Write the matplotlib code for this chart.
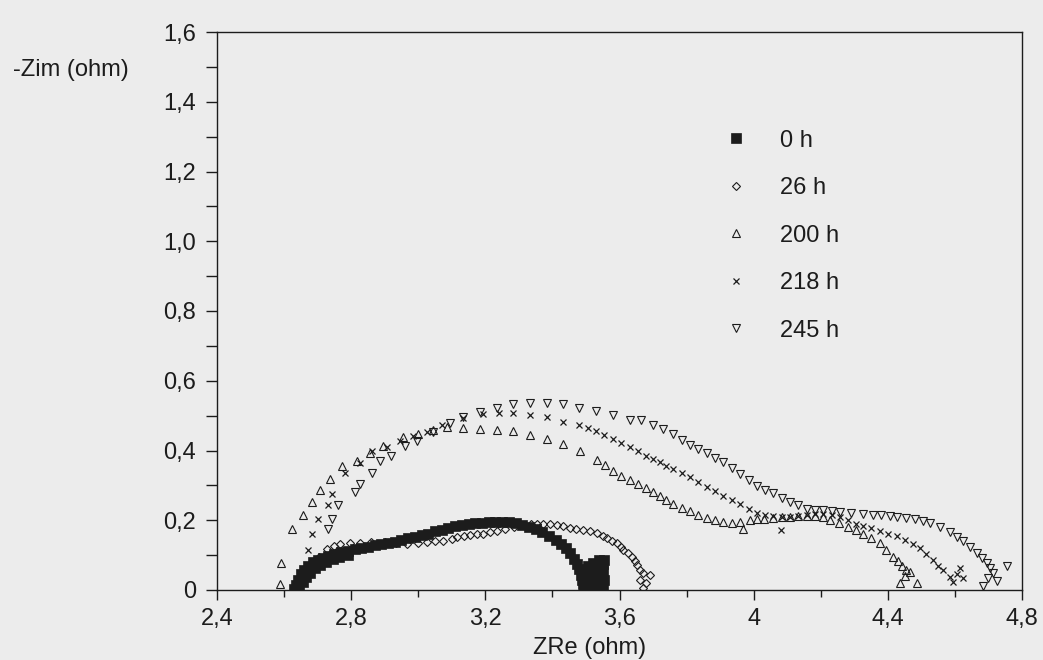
import matplotlib
matplotlib.use("Agg")
import matplotlib.pyplot as plt
import numpy as np

# Nyquist data (ZRe, -ZIm) in ohm
h0 = np.array([
    (2.630, 0.003), (2.635, 0.015), (2.642, 0.030), (2.650, 0.045), (2.660, 0.058),
    (2.672, 0.070), (2.686, 0.080), (2.700, 0.087), (2.715, 0.093), (2.730, 0.098),
    (2.750, 0.103), (2.770, 0.109), (2.790, 0.113), (2.810, 0.117), (2.830, 0.121),
    (2.850, 0.124), (2.870, 0.128), (2.890, 0.131), (2.910, 0.135), (2.930, 0.139),
    (2.950, 0.144), (2.970, 0.148), (2.990, 0.153), (3.010, 0.158), (3.030, 0.162),
    (3.050, 0.168), (3.070, 0.173), (3.090, 0.178), (3.110, 0.183), (3.130, 0.186),
    (3.150, 0.189), (3.170, 0.191), (3.190, 0.193), (3.210, 0.195), (3.230, 0.195),
    (3.250, 0.195), (3.270, 0.194), (3.290, 0.191), (3.310, 0.186), (3.330, 0.181),
    (3.350, 0.174), (3.370, 0.165), (3.390, 0.156), (3.410, 0.143), (3.425, 0.132),
    (3.440, 0.119), (3.452, 0.105), (3.463, 0.090), (3.472, 0.075), (3.479, 0.060),
    (3.485, 0.044), (3.489, 0.030), (3.492, 0.016), (3.495, 0.004),
    # lower edge of the thick start of the band
    (2.645, 0.008), (2.655, 0.022), (2.665, 0.036), (2.678, 0.050), (2.692, 0.062),
    (2.708, 0.072), (2.725, 0.080), (2.745, 0.088), (2.765, 0.095), (2.790, 0.101),
    # end cluster
    (3.500, 0.010), (3.500, 0.030), (3.500, 0.050), (3.505, 0.068),
    (3.510, 0.004), (3.525, 0.004), (3.540, 0.004), (3.510, 0.020), (3.525, 0.022),
    (3.540, 0.020), (3.515, 0.040), (3.530, 0.045), (3.545, 0.040), (3.520, 0.060),
    (3.535, 0.065), (3.550, 0.075), (3.555, 0.085), (3.520, 0.078), (3.540, 0.085),
    (3.550, 0.055), (3.553, 0.030), (3.550, 0.010),
])

h26 = np.array([
    (2.650, 0.025), (2.665, 0.050), (2.685, 0.075), (2.705, 0.095), (2.728, 0.117),
    (2.750, 0.125), (2.767, 0.131), (2.797, 0.135), (2.826, 0.135), (2.860, 0.137),
    (2.900, 0.138), (2.935, 0.136), (2.966, 0.133), (3.000, 0.136), (3.026, 0.137),
    (3.050, 0.140), (3.074, 0.140), (3.100, 0.146), (3.116, 0.152), (3.135, 0.155),
    (3.154, 0.157), (3.174, 0.160), (3.193, 0.162), (3.214, 0.166), (3.235, 0.169),
    (3.260, 0.175), (3.285, 0.180), (3.310, 0.185), (3.335, 0.188), (3.355, 0.189),
    (3.372, 0.190), (3.393, 0.188), (3.414, 0.186), (3.433, 0.183), (3.452, 0.179),
    (3.471, 0.176), (3.491, 0.173), (3.512, 0.168), (3.533, 0.163), (3.550, 0.155),
    (3.563, 0.148), (3.578, 0.141), (3.593, 0.134), (3.603, 0.124), (3.611, 0.114),
    (3.625, 0.105), (3.637, 0.096), (3.645, 0.083), (3.652, 0.071), (3.660, 0.058),
    (3.670, 0.048), (3.690, 0.042), (3.660, 0.028), (3.680, 0.019), (3.670, 0.006),
])

h200 = np.array([
    (2.588, 0.016), (2.591, 0.076), (2.624, 0.175), (2.656, 0.215), (2.683, 0.252),
    (2.707, 0.288), (2.737, 0.317), (2.773, 0.356), (2.817, 0.370), (2.856, 0.392),
    (2.895, 0.414), (2.955, 0.439), (3.000, 0.447), (3.044, 0.460), (3.086, 0.468),
    (3.133, 0.464), (3.184, 0.463), (3.235, 0.459), (3.283, 0.455), (3.333, 0.445),
    (3.384, 0.433), (3.432, 0.418), (3.482, 0.399), (3.533, 0.373), (3.558, 0.357),
    (3.580, 0.340), (3.605, 0.328), (3.630, 0.316), (3.655, 0.305), (3.680, 0.293),
    (3.700, 0.281), (3.720, 0.270), (3.740, 0.258), (3.760, 0.248), (3.785, 0.236),
    (3.810, 0.226), (3.835, 0.216), (3.861, 0.207), (3.885, 0.200), (3.909, 0.195),
    (3.935, 0.193), (3.959, 0.194), (3.968, 0.174), (3.989, 0.200), (4.010, 0.203),
    (4.030, 0.205), (4.058, 0.206), (4.083, 0.208), (4.108, 0.210), (4.133, 0.212),
    (4.159, 0.213), (4.183, 0.212), (4.207, 0.210), (4.228, 0.200), (4.255, 0.192),
    (4.280, 0.182), (4.305, 0.172), (4.326, 0.162), (4.350, 0.149), (4.377, 0.134),
    (4.396, 0.116), (4.416, 0.096), (4.430, 0.082), (4.442, 0.069), (4.455, 0.058),
    (4.466, 0.051), (4.450, 0.039), (4.436, 0.020), (4.487, 0.020),
])

h218 = np.array([
    (2.671, 0.115), (2.683, 0.160), (2.700, 0.203), (2.731, 0.243), (2.743, 0.275),
    (2.782, 0.336), (2.826, 0.365), (2.862, 0.398), (2.907, 0.411), (2.946, 0.428),
    (2.984, 0.441), (3.026, 0.454), (3.071, 0.473), (3.133, 0.492), (3.193, 0.506),
    (3.240, 0.508), (3.283, 0.508), (3.333, 0.501), (3.384, 0.496), (3.432, 0.482),
    (3.480, 0.474), (3.505, 0.465), (3.530, 0.456), (3.555, 0.444), (3.580, 0.433),
    (3.605, 0.422), (3.630, 0.411), (3.655, 0.398), (3.680, 0.385), (3.700, 0.375),
    (3.720, 0.366), (3.740, 0.356), (3.760, 0.347), (3.785, 0.335), (3.810, 0.323),
    (3.835, 0.309), (3.861, 0.295), (3.885, 0.283), (3.909, 0.270), (3.935, 0.258),
    (3.959, 0.246), (3.985, 0.233), (4.010, 0.220), (4.035, 0.215), (4.058, 0.212),
    (4.080, 0.173), (4.083, 0.210), (4.108, 0.210), (4.133, 0.212), (4.159, 0.214),
    (4.183, 0.217), (4.207, 0.218), (4.233, 0.215), (4.258, 0.210), (4.280, 0.200),
    (4.305, 0.190), (4.326, 0.183), (4.350, 0.177), (4.377, 0.170), (4.400, 0.162),
    (4.427, 0.154), (4.450, 0.144), (4.475, 0.132), (4.496, 0.120), (4.515, 0.103),
    (4.535, 0.085), (4.550, 0.070), (4.565, 0.056), (4.585, 0.036), (4.615, 0.062),
    (4.624, 0.033), (4.594, 0.022), (4.605, 0.045),
])

h245 = np.array([
    (2.731, 0.175), (2.743, 0.204), (2.761, 0.243), (2.811, 0.280), (2.826, 0.305),
    (2.862, 0.335), (2.886, 0.371), (2.920, 0.385), (2.960, 0.413), (2.996, 0.427),
    (3.044, 0.454), (3.095, 0.479), (3.133, 0.495), (3.184, 0.509), (3.235, 0.522),
    (3.283, 0.532), (3.333, 0.537), (3.384, 0.536), (3.432, 0.532), (3.480, 0.523),
    (3.530, 0.513), (3.580, 0.501), (3.630, 0.487), (3.665, 0.487), (3.700, 0.474),
    (3.730, 0.462), (3.760, 0.446), (3.785, 0.430), (3.810, 0.416), (3.835, 0.404),
    (3.861, 0.392), (3.885, 0.379), (3.909, 0.366), (3.935, 0.350), (3.959, 0.333),
    (3.985, 0.315), (4.010, 0.298), (4.035, 0.287), (4.058, 0.277), (4.083, 0.265),
    (4.108, 0.253), (4.133, 0.243), (4.159, 0.233), (4.183, 0.230), (4.207, 0.229),
    (4.233, 0.227), (4.258, 0.225), (4.290, 0.222), (4.326, 0.218), (4.355, 0.216),
    (4.380, 0.214), (4.405, 0.212), (4.427, 0.209), (4.455, 0.206), (4.480, 0.203),
    (4.505, 0.198), (4.526, 0.192), (4.555, 0.180), (4.585, 0.165), (4.605, 0.153),
    (4.624, 0.141), (4.645, 0.124), (4.666, 0.106), (4.680, 0.092), (4.696, 0.077),
    (4.705, 0.063), (4.714, 0.049), (4.726, 0.026), (4.684, 0.011), (4.755, 0.069),
    (4.700, 0.035),
])

labels = ["0 h", "26 h", "200 h", "218 h", "245 h"]

x_ticks = [2.4, 2.8, 3.2, 3.6, 4.0, 4.4, 4.8]
x_ticklabels = ["2,4", "2,8", "3,2", "3,6", "4", "4,4", "4,8"]
y_ticks = [0, 0.2, 0.4, 0.6, 0.8, 1.0, 1.2, 1.4, 1.6]
y_ticklabels = ["0", "0,2", "0,4", "0,6", "0,8", "1,0", "1,2", "1,4", "1,6"]

plt.rcParams['font.family'] = ['Liberation Sans', 'DejaVu Sans']
ink = '#1c1c1c'
bg = '#ececec'

fig = plt.figure(figsize=(10.43, 6.60), dpi=100, facecolor=bg)
ax = fig.add_axes([217/1043, 70/660, 805/1043, 558/660], facecolor=bg)

ax.plot(h0[:, 0], h0[:, 1], ls='none', marker='s', ms=7.5, mfc=ink, mec=ink, mew=0.5, label=labels[0])
ax.plot(h26[:, 0], h26[:, 1], ls='none', marker='D', ms=3.8, mfc='none', mec=ink, mew=0.8, label=labels[1])
ax.plot(h200[:, 0], h200[:, 1], ls='none', marker='^', ms=5.5, mfc='none', mec=ink, mew=0.8, label=labels[2])
ax.plot(h218[:, 0], h218[:, 1], ls='none', marker='x', ms=5, mec=ink, mew=0.9, label=labels[3])
ax.plot(h245[:, 0], h245[:, 1], ls='none', marker='v', ms=5.5, mfc='none', mec=ink, mew=0.8, label=labels[4])

ax.set_xlim(2.4, 4.8)
ax.set_ylim(0, 1.6)
ax.set_xticks(x_ticks)
ax.set_xticklabels(x_ticklabels)
ax.set_yticks(y_ticks)
ax.set_yticklabels(y_ticklabels)
ax.set_xticks(np.arange(2.6, 4.8, 0.4), minor=True)
ax.set_yticks(np.arange(0.1, 1.6, 0.2), minor=True)
ax.tick_params(axis='both', which='both', direction='out', colors=ink, width=1.0, labelsize=17)
ax.tick_params(axis='y', which='both', length=8, pad=7)
ax.tick_params(axis='x', which='major', length=7, pad=6)
ax.tick_params(axis='x', which='minor', length=5)
for s in ax.spines.values():
    s.set_color(ink)
    s.set_linewidth(1.0)

fig.text(13/1043, 1 - 70/660, "-Zim (ohm)", fontsize=17, color=ink, ha='left', va='center')
fig.text(590/1043, 1 - 648/660, "ZRe (ohm)", fontsize=17, color=ink, ha='center', va='center')

leg = ax.legend(loc='upper left', bbox_to_anchor=(0.630, 0.825), frameon=False,
                fontsize=17, handlelength=1.0, handletextpad=1.35, labelspacing=1.08,
                borderpad=0, borderaxespad=0)
for t in leg.get_texts():
    t.set_color(ink)

fig.savefig("out.png", dpi=100, facecolor=bg)
